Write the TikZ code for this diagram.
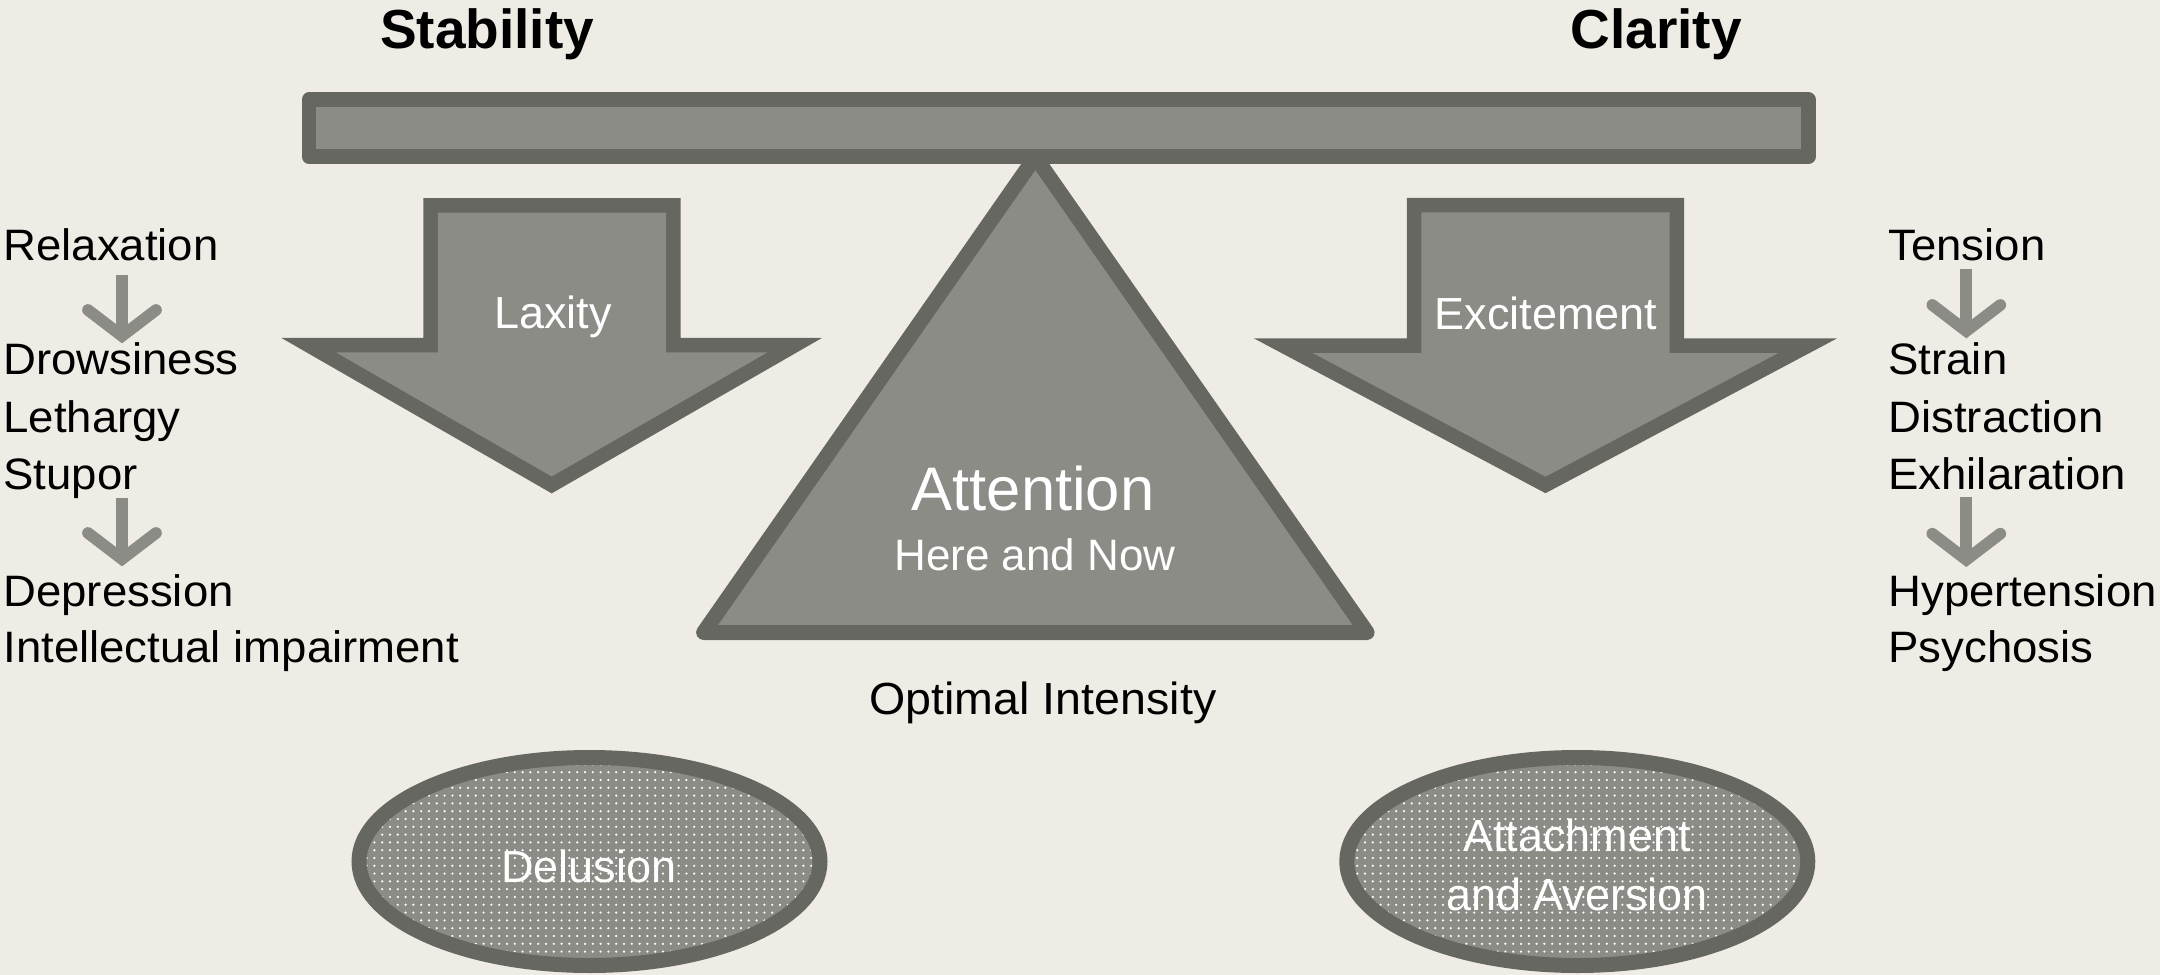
\documentclass[tikz,border=0pt]{standalone}
\usepackage{fontspec}
\setmainfont{Liberation Sans}
\newfontfamily\listfont[FakeStretch=1.035]{Liberation Sans}
\usetikzlibrary{shapes.geometric,patterns.meta,calc}

\definecolor{bgcol}{RGB}{238,236,229}
\definecolor{shapefill}{RGB}{139,140,133}
\definecolor{shapeline}{RGB}{102,103,97}

\begin{document}
\begin{tikzpicture}[x=0.5pt,y=-0.5pt,
  heavy/.style={draw=shapeline, fill=shapefill, line width=7.25pt, line join=miter, miter limit=10},
  beamstyle/.style={draw=shapeline, fill=shapefill, line width=7.25pt, line join=round},
  fulcrum/.style={draw=shapeline, fill=shapefill, line width=7.5pt, line join=round},
  blob/.style={ellipse, draw=shapeline, line width=7.5pt, inner sep=0pt,
    minimum width=230.5pt, minimum height=104pt,
    preaction={fill=shapefill},
    pattern={Dots[distance=3.9pt, radius=0.62pt]}, pattern color=white},
  heading/.style={font=\fontsize{27.5}{32}\selectfont\bfseries, text=black, inner sep=0pt, anchor=base},
  listitem/.style={font=\listfont\fontsize{22}{26}\selectfont, text=black, inner sep=0pt, anchor=base west},
  caption/.style={font=\listfont\fontsize{22.5}{27}\selectfont, text=black, inner sep=0pt, anchor=base},
  wlabel/.style={font=\fontsize{22.5}{27}\selectfont, text=white, inner sep=0pt, anchor=base},
  wbig/.style={font=\fontsize{30.75}{36}\selectfont, text=white, inner sep=0pt, anchor=base},
  stepshaft/.style={draw=shapefill, line width=5.85pt, line cap=butt},
  stephead/.style={draw=shapefill, line width=5.85pt, line cap=round, line join=miter}
]

% page background and frame
\fill[bgcol] (0,0) rectangle (2160,975);
\useasboundingbox (0,0) rectangle (2160,975);

% small grey step arrows: #1 = top of shaft, #2 = tip
\newcommand\stepdown[2]{%
  \draw[stepshaft] (#1) -- (#2);
  \draw[stephead] ($(#2)+(-34,-26)$) -- (#2) -- ($(#2)+(34,-26)$);
}

% headings
\node[heading] (stab) at (487,48) {Stability};
\node[heading] (clar) at (1656,48) {Clarity};

% fulcrum (drawn first so the beam covers its apex)
\draw[fulcrum] (1035.3,156.9) -- (1367.1,632.5) -- (703.6,632.5) -- cycle;
\node[wbig] (att) at (1033,510) {Attention};
\node[wlabel, font=\fontsize{22}{26}\selectfont] (hn) at (1035,570) {Here and Now};

% balance beam
\draw[beamstyle] (309,99.7) rectangle (1808.3,156.7);

% left block arrow
\draw[heavy] (430.5,205.3) -- (673.3,205.3) -- (673.3,345.2) -- (794.8,345.2)
  -- (551.7,485) -- (308.6,345.2) -- (430.5,345.2) -- cycle;
\node[wlabel] (lax) at (553,328.3) {Laxity};

% right block arrow
\draw[heavy] (1414.2,205.2) -- (1676.8,205.2) -- (1676.8,345.5) -- (1808.2,345.5)
  -- (1545.5,485) -- (1282.8,345.5) -- (1414.2,345.5) -- cycle;
\node[wlabel] (exc) at (1546,329) {Excitement};

% caption under the fulcrum
\node[caption] (opt) at (1043,714) {Optimal Intensity};

% left list
\node[listitem] (relax) at (3,260) {Relaxation};
\node[listitem] (drow)  at (3,374.5) {Drowsiness};
\node[listitem] (leth)  at (3,432.3) {Lethargy};
\node[listitem] (stup)  at (3,489) {Stupor};
\node[listitem] (depr)  at (3,606.7) {Depression};
\node[listitem] (intel) at (3,662.3) {Intellectual impairment};

% right list
\node[listitem] (tens)  at (1888,260) {Tension};
\node[listitem] (strn)  at (1888,374.5) {Strain};
\node[listitem] (dist)  at (1888,432.3) {Distraction};
\node[listitem] (exh)   at (1888,489) {Exhilaration};
\node[listitem] (hyp)   at (1888,606.7) {Hypertension};
\node[listitem] (psy)   at (1888,662.3) {Psychosis};

% step arrows between list entries
\coordinate (la1top) at (122,275);    \coordinate (la1tip) at (122,336);
\coordinate (la2top) at (122,498);    \coordinate (la2tip) at (122,559);
\coordinate (ra1top) at (1966.3,269.3); \coordinate (ra1tip) at (1966.3,331);
\coordinate (ra2top) at (1966.3,497.3); \coordinate (ra2tip) at (1966.3,559.7);
\stepdown{la1top}{la1tip}
\stepdown{la2top}{la2tip}
\stepdown{ra1top}{ra1tip}
\stepdown{ra2top}{ra2tip}

% dotted ellipses
\node[blob] (del) at (589.5,861.5) {};
\node[wlabel] (deltext) at (589,882.7) {Delusion};
\node[blob] (aa) at (1577.3,861.5) {};
\node[wlabel] (aatext1) at (1577,851.7) {Attachment};
\node[wlabel] (aatext2) at (1577,910.7) {and Aversion};

\end{tikzpicture}
\end{document}
